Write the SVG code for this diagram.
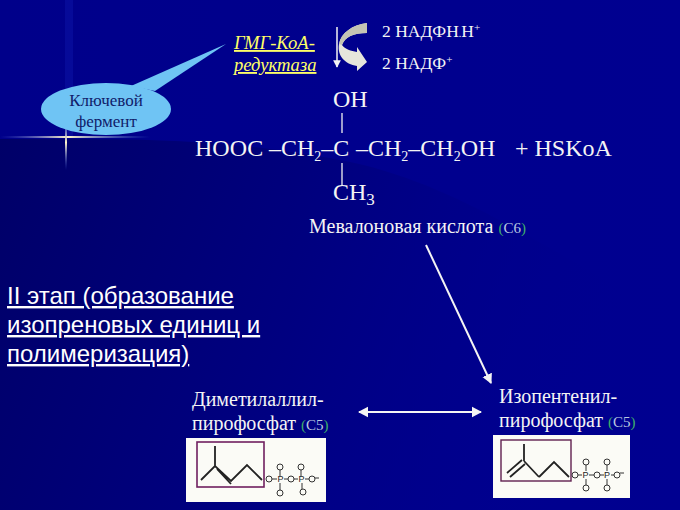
<svg xmlns="http://www.w3.org/2000/svg" width="680" height="510" viewBox="0 0 680 510">
<style>
text{font-family:"Liberation Serif",serif;fill:#f4f4f4}
.f{font-size:24px}
.s{font-size:17.5px}
.m{font-size:20px}
.c{fill:#3fae6a;font-size:15px}
.c2{fill:#b9c8e0;font-size:15px}
.b{stroke:#f0f0f0;stroke-width:1.3;fill:none}
.w{fill:#fbfbf6}
.k{stroke:#222;stroke-width:1.8;fill:none}
.o{stroke:#333;stroke-width:1;fill:none}
.l{font-size:9px;fill:#222;font-family:"Liberation Sans",sans-serif}
.p{font-family:"Liberation Sans",sans-serif;font-size:24px;text-decoration:underline;fill:#fff}
</style>
<defs>
<linearGradient id="bg" x1="0" y1="0" x2="1" y2="0">
<stop offset="0" stop-color="#00008a"/><stop offset="1" stop-color="#000090"/>
</linearGradient>
<linearGradient id="low" x1="0" y1="0" x2="1" y2="0.2">
<stop offset="0" stop-color="#000068"/><stop offset="0.5" stop-color="#000080"/><stop offset="1" stop-color="#000090" stop-opacity="0"/>
</linearGradient>
<linearGradient id="flareH" x1="0" y1="0" x2="1" y2="0">
<stop offset="0" stop-color="#5a6fe0" stop-opacity="0"/><stop offset="0.45" stop-color="#fff4c8"/><stop offset="1" stop-color="#5a8fe0" stop-opacity="0"/>
</linearGradient>
<linearGradient id="flareV" x1="0" y1="0" x2="0" y2="1">
<stop offset="0" stop-color="#4060e0" stop-opacity="0.25"/><stop offset="0.45" stop-color="#fff4c8"/><stop offset="1" stop-color="#4060e0" stop-opacity="0"/>
</linearGradient>
<marker id="ah" markerWidth="6" markerHeight="6" refX="4.5" refY="3" orient="auto-start-reverse" markerUnits="strokeWidth">
<path d="M0 0.4L5 3L0 5.6Z" fill="#f4f4f4"/>
</marker>
</defs>
<rect width="680" height="510" fill="url(#bg)"/>
<path d="M0 139C150 139 220 138 340 160S560 260 680 320V510H0Z" fill="url(#low)"/>
<rect x="65" y="0" width="8" height="137" fill="#1420b8" opacity="0.3"/>
<g id="flare">
<rect x="0" y="136" width="150" height="2" fill="url(#flareH)"/>
<rect x="65" y="120" width="2" height="50" fill="url(#flareV)"/>
</g>
<g id="node-callout">
<path d="M131 86L226 44L155 91Z" fill="#6fc4f4"/>
<ellipse cx="106" cy="109" rx="65" ry="26" fill="#6fc4f4"/>
<text x="106" y="106" text-anchor="middle" font-size="17" style="fill:#10206a">Ключевой</text>
<text x="106" y="127" text-anchor="middle" font-size="17" style="fill:#10206a">фермент</text>
</g>
<g id="node-enzyme">
<text x="234" y="49" font-size="18.6" font-style="italic" text-decoration="underline" style="fill:#ffff66">ГМГ-КоА-</text>
<text x="234" y="71" font-size="18.6" font-style="italic" text-decoration="underline" style="fill:#ffff66">редуктаза</text>
</g>
<g id="node-cofactor">
<path d="M367 23V33C353 33 345 37 342 45C345 49 351 51 357 52V47L367 62L357 71V66C345 64 337 56 339 44C341 33 352 25 367 23Z" fill="#e6e6dc"/>
<path d="M367 23V33C353 33 345 37 342 45L339 44C341 33 352 25 367 23Z" fill="#c4c4b4"/>
<text x="382" y="37" class="s">2 НАДФН<tspan font-size="10">.</tspan>Н<tspan font-size="11" dy="-6">+</tspan></text>
<text x="382" y="69" class="s">2 НАДФ<tspan font-size="11" dy="-6">+</tspan></text>
</g>
<g id="node-mevalonate">
<text x="333" y="107" class="f">ОН</text>
<text x="195" y="156" class="f">НООС</text>
<text x="269" y="156" class="f">–СН<tspan font-size="14" dy="5">2</tspan><tspan dy="-5">–С</tspan></text>
<text x="356" y="156" class="f">–СН<tspan font-size="14" dy="5">2</tspan><tspan dy="-5">–СН</tspan><tspan font-size="14" dy="5">2</tspan><tspan dy="-5">ОН</tspan></text>
<text x="515" y="156" class="f">+ НSKоА</text>
<text x="333" y="200" class="f">СН<tspan font-size="17" dy="5">3</tspan></text>
<text x="309" y="233" class="m">Мевалоновая кислота <tspan class="c">(</tspan><tspan class="c2">С6</tspan><tspan class="c">)</tspan></text>
</g>
<g id="node-stage">
<text x="7" y="304" class="p">II этап (образование</text>
<text x="7" y="333" class="p">изопреновых единиц и</text>
<text x="7" y="362" class="p">полимеризация)</text>
</g>
<g id="node-dmapp">
<text x="192" y="406" class="m">Диметилаллил-</text>
<text x="192" y="430" class="m">пирофосфат <tspan class="c">(</tspan><tspan class="c2">С5</tspan><tspan class="c">)</tspan></text>
<rect x="186" y="438" width="140" height="64" class="w"/>
<rect x="197" y="442" width="67" height="45" fill="none" stroke="#702060" stroke-width="1.6"/>
<path d="M215 446V466M201 480L215 466L231 481L247 465L262 480M217 469L231 484" class="k"/>
<g class="o"><circle cx="269" cy="479" r="3"/><circle cx="280" cy="467" r="3"/><circle cx="291" cy="479" r="3"/><circle cx="301" cy="467" r="3"/><circle cx="312" cy="479" r="3"/><circle cx="280" cy="493" r="3"/><circle cx="303" cy="492" r="3"/><path d="M280 470V476M280 483V490M272 479H277M284 479H288M294 479H298M305 479H309M301 470V476M302 483V489M315 478H319"/></g>
<text x="277.500" y="482" class="l">P</text><text x="298.500" y="482" class="l">P</text>
</g>
<g id="node-ipp">
<text x="499" y="403" class="m">Изопентенил-</text>
<text x="499" y="427" class="m">пирофосфат <tspan class="c">(</tspan><tspan class="c2">С5</tspan><tspan class="c">)</tspan></text>
<rect x="493" y="435" width="137" height="63" class="w"/>
<rect x="501" y="440" width="70" height="41" fill="none" stroke="#602050" stroke-width="1.4"/>
<path d="M524 444V461M539 477L554 462L569 477M524 461L539 477M507 473L522 460M510 477L525 464" class="k"/>
<g class="o"><circle cx="575" cy="475" r="3"/><circle cx="586" cy="462" r="3"/><circle cx="597" cy="475" r="3"/><circle cx="607" cy="462" r="3"/><circle cx="617" cy="475" r="3"/><circle cx="586" cy="488" r="3"/><circle cx="607" cy="488" r="3"/><path d="M586 465V471M586 479V485M578 475H582M589 475H594M600 475H604M611 475H614M607 465V471M607 479V485M620 473H624"/></g>
<text x="582.500" y="478" class="l">P</text><text x="604" y="478" class="l">P</text>
</g>
<g id="connectors">
<path d="M337 27V67" stroke="#f4f4f4" stroke-width="1.5" fill="none" marker-end="url(#ah)"/>
<path d="M342 113V133M342 163V185" class="b"/>
<path d="M426 245L491 383" stroke="#f4f4f4" stroke-width="2" fill="none" marker-end="url(#ah)"/>
<path d="M359 412H481" stroke="#f4f4f4" stroke-width="2" fill="none" marker-start="url(#ah)" marker-end="url(#ah)"/>
</g>
</svg>
